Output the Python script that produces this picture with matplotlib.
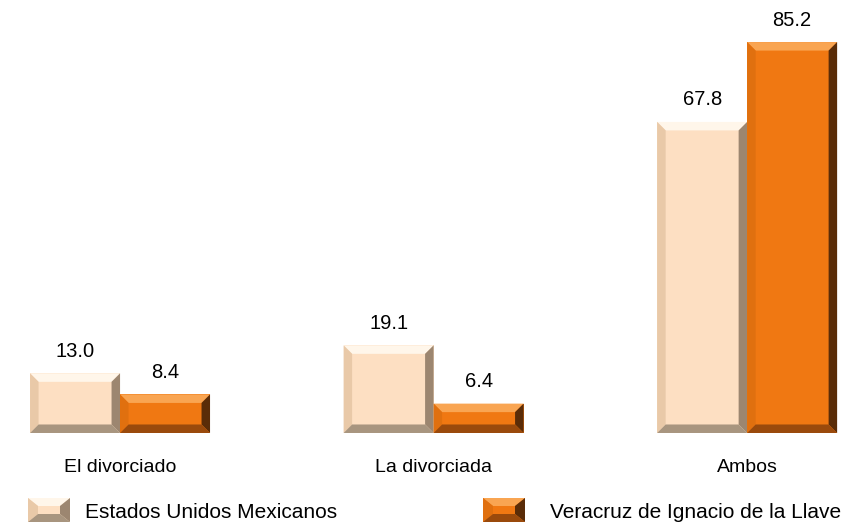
import matplotlib.pyplot as plt
from matplotlib.patches import Polygon, Rectangle

plt.rcParams['font.family'] = ['Liberation Sans', 'DejaVu Sans']

categorias = ["El divorciado", "La divorciada", "Ambos"]
nacional = [13.0, 19.1, 67.8]
veracruz = [8.4, 6.4, 85.2]
series = ["Estados Unidos Mexicanos", "Veracruz de Ignacio de la Llave"]

# face, top, left, right, bottom
tonos_claro = ["#fddfc2", "#fff6ea", "#e9c9a8", "#9c8670", "#a8957f"]
tonos_naranja = ["#f07812", "#f9a552", "#e0700f", "#5a2c08", "#9a4a0c"]


def bisel(ax, x, y, w, h, bx, by, tonos):
    by = min(by, h / 2.0)
    cara, arriba, izq, der, abajo = tonos
    x2, y2 = x + w, y + h
    ax.add_patch(Rectangle((x, y), w, h, facecolor=cara, edgecolor="none"))
    ax.add_patch(Polygon([(x, y2), (x2, y2), (x2 - bx, y2 - by), (x + bx, y2 - by)],
                         facecolor=arriba, edgecolor="none"))
    ax.add_patch(Polygon([(x, y), (x, y2), (x + bx, y2 - by), (x + bx, y + by)],
                         facecolor=izq, edgecolor="none"))
    ax.add_patch(Polygon([(x2, y), (x2, y2), (x2 - bx, y2 - by), (x2 - bx, y + by)],
                         facecolor=der, edgecolor="none"))
    ax.add_patch(Polygon([(x, y), (x2, y), (x2 - bx, y + by), (x + bx, y + by)],
                         facecolor=abajo, edgecolor="none"))


fig = plt.figure(figsize=(8.62, 5.24), dpi=100)
ax = fig.add_axes([0.0116, 0.1737, 0.977, 0.788])
ax.set_xlim(-0.351, 2.335)
ax.set_ylim(0, 90)

w = 0.287
bx = 8.5 / 313.5
by = 8.5 / 4.59
for i in range(len(categorias)):
    for j, (vals, tonos) in enumerate([(nacional, tonos_claro), (veracruz, tonos_naranja)]):
        x0 = i - w + j * w
        bisel(ax, x0, 0, w, vals[i], bx, by, tonos)
        ax.annotate("%.1f" % vals[i], (x0 + w / 2, vals[i]), xytext=(0, 9),
                    textcoords="offset points", ha="center", va="bottom", fontsize=14.5)

ax.set_xticks(range(len(categorias)))
ax.set_xticklabels(categorias, fontsize=14)
ax.tick_params(axis="x", length=0, pad=19)
ax.set_yticks([])
for s in ax.spines.values():
    s.set_visible(False)

# leyenda
for k, (nombre, tonos, px, tx) in enumerate([(series[0], tonos_claro, 28, 85),
                                             (series[1], tonos_naranja, 483, 550)]):
    lax = fig.add_axes([px / 862, 2 / 524, 42 / 862, 24 / 524])
    lax.set_xlim(0, 42)
    lax.set_ylim(0, 24)
    lax.axis("off")
    bisel(lax, 0, 0, 42, 24, 10, 8, tonos)
    fig.text(tx / 862, 12 / 524, nombre, fontsize=15, va="center", ha="left")

fig.savefig("out.png", dpi=100)
